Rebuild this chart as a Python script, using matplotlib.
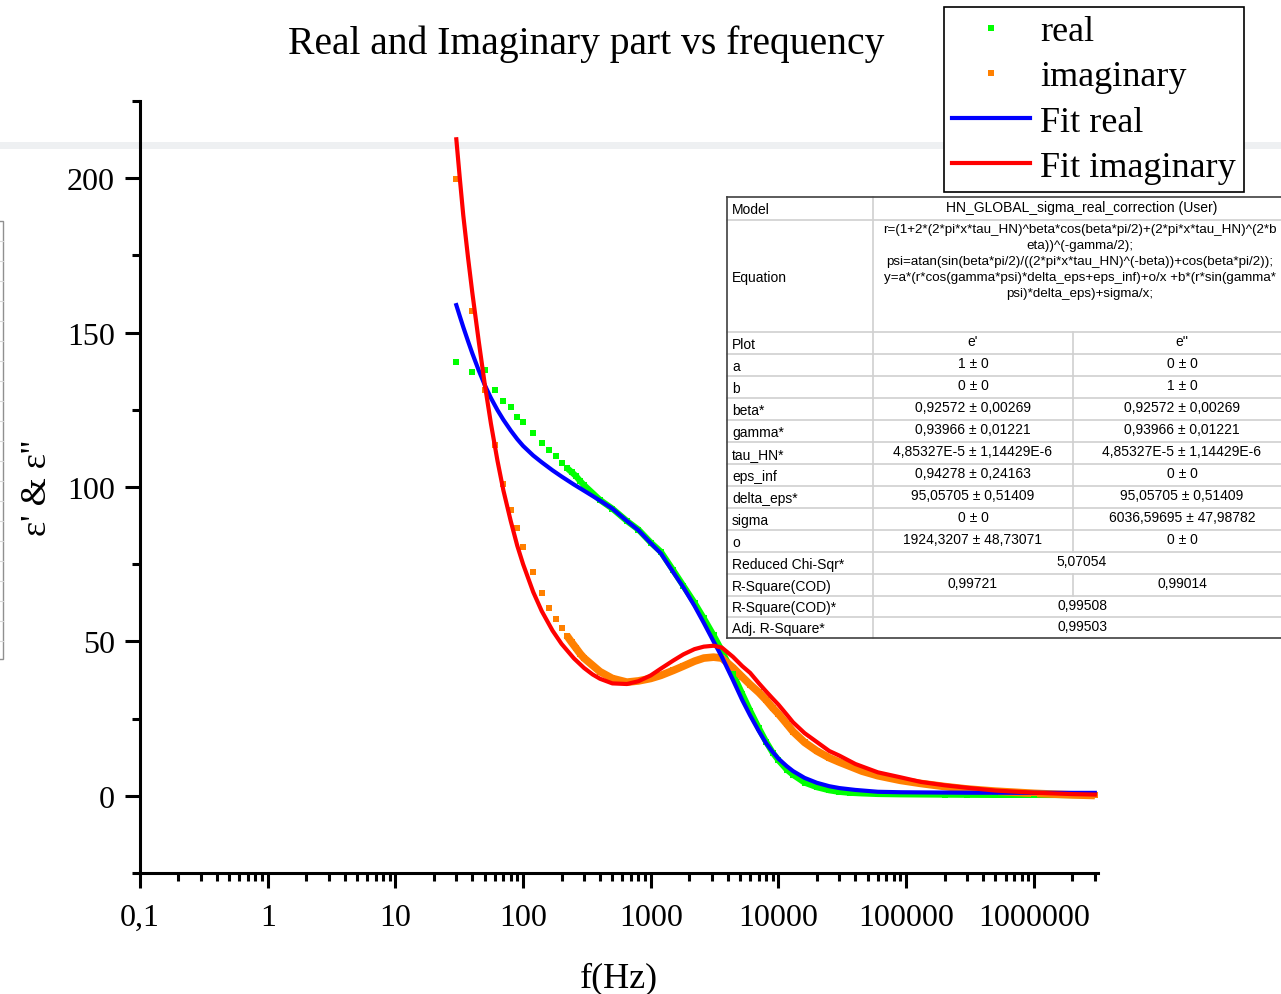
import numpy as np
import matplotlib.pyplot as plt
from matplotlib.patches import Rectangle
from matplotlib.lines import Line2D
from matplotlib.ticker import FixedLocator, MultipleLocator, NullFormatter

freq = [30, 40, 50, 60, 70, 80, 90, 100, 120, 140, 160, 180, 200, 220, 240, 260, 280, 300,
        400, 500, 650, 800, 1000, 1200, 1500, 1800, 2200, 2600, 3100, 3600, 4400, 5200,
        6000, 7000, 8000, 9000, 10000, 11600, 13000, 16000, 20000, 25000, 30000, 36000,
        45000, 60000, 90000, 130000, 200000, 300000, 500000, 1000000, 2000000, 3000000]
eps_real = [140.4, 137.3, 138.0, 131.5, 127.9, 126.0, 122.7, 120.9, 117.5, 114.2, 112.1,
            109.9, 107.8, 106.2, 104.8, 103.5, 101.9, 100.6,
            95.8, 93.0, 89.0, 86.2, 82.0, 79.0, 73.0, 68.0, 62.5, 57.5, 52.0, 47.0, 39.5,
            33.0, 27.5, 22.0, 17.5, 14.0, 11.5, 8.5, 6.8, 4.3, 2.8, 1.8, 1.3, 1.0,
            0.8, 0.6, 0.5, 0.45, 0.4, 0.35, 0.3, 0.3, 0.25, 0.25]
eps_imag = [199.7, 157.0, 131.4, 113.6, 101.0, 92.7, 86.8, 80.6, 72.4, 65.8, 60.7, 57.1,
            54.4, 51.9, 49.7, 47.8, 46.0, 44.6,
            40.2, 38.0, 36.8, 37.2, 38.0, 39.0, 40.6, 42.0, 43.6, 44.6, 44.9, 44.6, 41.5,
            38.5, 36.0, 33.5, 31.0, 28.5, 26.5, 23.3, 20.8, 17.3, 14.5, 12.3, 10.9, 9.6,
            8.0, 6.5, 5.0, 4.0, 3.0, 2.2, 1.5, 0.8, 0.3, 0.1]

# fitted curves
fit_freq = [30, 32, 34, 37, 40, 45, 50, 56, 63, 70, 80, 90, 100, 120, 140, 170, 200, 250,
            300, 350, 400, 500, 650, 800, 1000, 1200, 1500, 1800, 2200, 2600, 3100, 3600,
            4400, 5200, 6000, 7000, 8000, 9000, 10000, 11600, 13000, 16000, 20000, 25000,
            30000, 40000, 60000, 90000, 130000, 200000, 300000, 500000, 1000000, 2000000,
            3000000]
fit_real = [158.9, 155.2, 151.8, 147.3, 143.3, 137.7, 133.1, 128.8, 124.9, 121.8, 118.3,
            115.5, 113.3, 110.2, 108.0, 105.4, 103.4, 100.8, 98.8, 97.1, 95.6, 93.0, 89.0,
            86.0, 81.8, 78.5, 72.4, 67.5, 61.5, 56.0, 50.0, 45.0, 37.5, 31.0, 26.0, 21.0,
            17.0, 14.2, 12.0, 9.6, 8.0, 5.8, 4.2, 3.1, 2.5, 1.9, 1.3, 1.15, 1.1, 1.05, 1.0,
            1.0, 0.97, 0.95, 0.95]
fit_imag = [212.6, 199.6, 188.0, 174.5, 163.0, 147.0, 133.5, 120.5, 108.5, 99.0, 89.0,
            81.0, 75.0, 66.0, 59.8, 53.5, 49.2, 44.5, 41.4, 39.3, 37.9, 36.4, 36.2, 37.1,
            39.0, 41.2, 43.8, 45.8, 47.5, 48.3, 48.6, 48.0, 45.0, 42.0, 39.8, 36.5, 33.8,
            31.5, 29.5, 26.3, 23.8, 20.3, 17.4, 14.5, 13.0, 10.3, 7.6, 6.0, 4.5, 3.4, 2.6,
            1.7, 1.0, 0.55, 0.4]

x_ticks = [0.1, 1, 10, 100, 1000, 10000, 100000, 1000000]
x_labels = ['0,1', '1', '10', '100', '1000', '10000', '100000', '1000000']

table_rows = [
    ("Plot", "e'", "e''"),
    ("a", "1 ± 0", "0 ± 0"),
    ("b", "0 ± 0", "1 ± 0"),
    ("beta*", "0,92572 ± 0,00269", "0,92572 ± 0,00269"),
    ("gamma*", "0,93966 ± 0,01221", "0,93966 ± 0,01221"),
    ("tau_HN*", "4,85327E-5 ± 1,14429E-6", "4,85327E-5 ± 1,14429E-6"),
    ("eps_inf", "0,94278 ± 0,24163", "0 ± 0"),
    ("delta_eps*", "95,05705 ± 0,51409", "95,05705 ± 0,51409"),
    ("sigma", "0 ± 0", "6036,59695 ± 47,98782"),
    ("o", "1924,3207 ± 48,73071", "0 ± 0"),
    ("Reduced Chi-Sqr*", "5,07054", None),
    ("R-Square(COD)", "0,99721", "0,99014"),
    ("R-Square(COD)*", "0,99508", None),
    ("Adj. R-Square*", "0,99503", None),
]
equation = ["r=(1+2*(2*pi*x*tau_HN)^beta*cos(beta*pi/2)+(2*pi*x*tau_HN)^(2*b",
            "eta))^(-gamma/2);",
            "psi=atan(sin(beta*pi/2)/((2*pi*x*tau_HN)^(-beta))+cos(beta*pi/2));",
            "y=a*(r*cos(gamma*psi)*delta_eps+eps_inf)+o/x +b*(r*sin(gamma*",
            "psi)*delta_eps)+sigma/x;"]

W, H = 1281, 995
plt.rcParams['font.family'] = ['Liberation Serif', 'DejaVu Serif']
fig = plt.figure(figsize=(W / 100, H / 100), dpi=100)
ax = fig.add_axes([140 / W, 1 - 874 / H, (1098 - 140) / W, (874 - 102) / H])
ax.patch.set_alpha(0)

def fx(px):
    return px / W

def fy(py):
    return 1 - py / H

# light grey band / left box seen in the screenshot
fig.add_artist(Rectangle((0, fy(150)), 1, 7 / H, transform=fig.transFigure,
                         color='#eef0f2', lw=0, zorder=-1))
fig.add_artist(Rectangle((fx(-5), fy(660)), 8 / W, 438 / H, transform=fig.transFigure,
                         facecolor='none', edgecolor='#909090', lw=1, zorder=-1))
for py in range(242, 660, 20):
    fig.add_artist(Line2D([0, fx(3)], [fy(py), fy(py)], transform=fig.transFigure,
                          color='#d8d8d8', lw=0.8, zorder=-1))

green = '#00ff00'
orange = '#ff8000'
f = np.array(freq)
band = f >= 220

ax.plot(f[band], np.array(eps_real)[band], color=green, lw=4.5, solid_capstyle='butt', zorder=2)
ax.plot(f[band], np.array(eps_imag)[band], color=orange, lw=5.5, solid_capstyle='butt', zorder=2)
ax.plot(freq, eps_real, 's', color=green, ms=4.3, mew=0, label='real', zorder=2)
ax.plot(freq, eps_imag, 's', color=orange, ms=4.3, mew=0, label='imaginary', zorder=2)
ax.plot(fit_freq, fit_real, color='#0000ff', lw=3, label='Fit real', zorder=3)
ax.plot(fit_freq, fit_imag, color='#ff0000', lw=3, label='Fit imaginary', zorder=3)

ax.set_xscale('log')
ax.set_xlim(0.1, 10 ** 6.502)
ax.set_ylim(-25, 225)
minor = [m * d for d in x_ticks for m in range(2, 10) if m * d < 10 ** 6.5]
ax.set_xticks(x_ticks, x_labels)
ax.xaxis.set_minor_locator(FixedLocator(minor))
ax.xaxis.set_minor_formatter(NullFormatter())
ax.yaxis.set_major_locator(MultipleLocator(50))
ax.yaxis.set_minor_locator(MultipleLocator(25))

for s in ['top', 'right']:
    ax.spines[s].set_visible(False)
for s in ['left', 'bottom']:
    ax.spines[s].set_linewidth(2.2)
ax.tick_params(which='major', direction='out', length=11, width=2.2, labelsize=23)
ax.tick_params(axis='x', which='major', pad=10.5)
ax.tick_params(axis='y', which='major', pad=7)
ax.tick_params(which='minor', direction='out', length=5.5, width=2.2)

ax.set_xlabel('f(Hz)', fontsize=26, labelpad=21)
ax.set_ylabel("ε' & ε''", fontsize=26, labelpad=9)
fig.text(fx(586), fy(44), 'Real and Imaginary part vs frequency', fontsize=28.5,
         ha='center', va='center')

leg = ax.legend(loc='upper left', bbox_to_anchor=(fx(944), fy(8)), bbox_transform=fig.transFigure,
                fontsize=26, frameon=True, fancybox=False, framealpha=1, edgecolor='black',
                handlelength=2.15, handletextpad=0.3, labelspacing=0.33, borderpad=0.22,
                borderaxespad=0)
leg.get_frame().set_linewidth(1.2)
leg.set_zorder(6)

# fit results table
cols = [727, 873, 1073, 1291]
rows = [198, 221, 333, 355, 377, 399, 421, 443, 465, 487, 509, 531, 553, 575, 597, 618, 639]
tkw = dict(transform=fig.transFigure, zorder=8, fontsize=10, family='Liberation Sans',
           va='center')
fig.add_artist(Rectangle((fx(cols[0]), fy(rows[-1])), (cols[-1] - cols[0]) / W,
                         (rows[-1] - rows[0]) / H, transform=fig.transFigure,
                         facecolor='white', edgecolor='none', zorder=7))

def hline(py, x0, x1, c='#d0d0d0'):
    fig.add_artist(Line2D([fx(x0), fx(x1)], [fy(py), fy(py)], transform=fig.transFigure,
                          color=c, lw=1.2, zorder=7.5))

def vline(px, y0, y1, c='#d0d0d0'):
    fig.add_artist(Line2D([fx(px), fx(px)], [fy(y0), fy(y1)], transform=fig.transFigure,
                          color=c, lw=1.2, zorder=7.5))

for py in rows[1:-1]:
    hline(py, cols[0], cols[-1])
vline(cols[1], rows[0], rows[-1])

fig.text(fx(732), fy(210), 'Model', ha='left', **tkw)
fig.text(fx(1082), fy(208), 'HN_GLOBAL_sigma_real_correction (User)', ha='center', **tkw)
fig.text(fx(732), fy(278), 'Equation', ha='left', **tkw)
eq_kw = dict(tkw, fontsize=9.6)
for i, line in enumerate(equation):
    fig.text(fx(1080), fy(230 + 16 * i), line, ha='center', **eq_kw)

for i, (name, v1, v2) in enumerate(table_rows):
    top, bot = rows[i + 2], rows[i + 3]
    yc = (top + bot) / 2 + 1
    fig.text(fx(732), fy(yc), name, ha='left', **tkw)
    if v2 is None:
        fig.text(fx(1082), fy(yc - 2.5), v1, ha='center', **tkw)
    else:
        vline(cols[2], top, bot)
        fig.text(fx(973), fy(yc - 2.5), v1, ha='center', **tkw)
        fig.text(fx(1182), fy(yc - 2.5), v2, ha='center', **tkw)

hline(rows[0], cols[0], cols[-1], '#404040')
hline(rows[-1], cols[0], cols[-1], '#404040')
vline(cols[0], rows[0], rows[-1], '#404040')

fig.savefig('out.png', dpi=100)
